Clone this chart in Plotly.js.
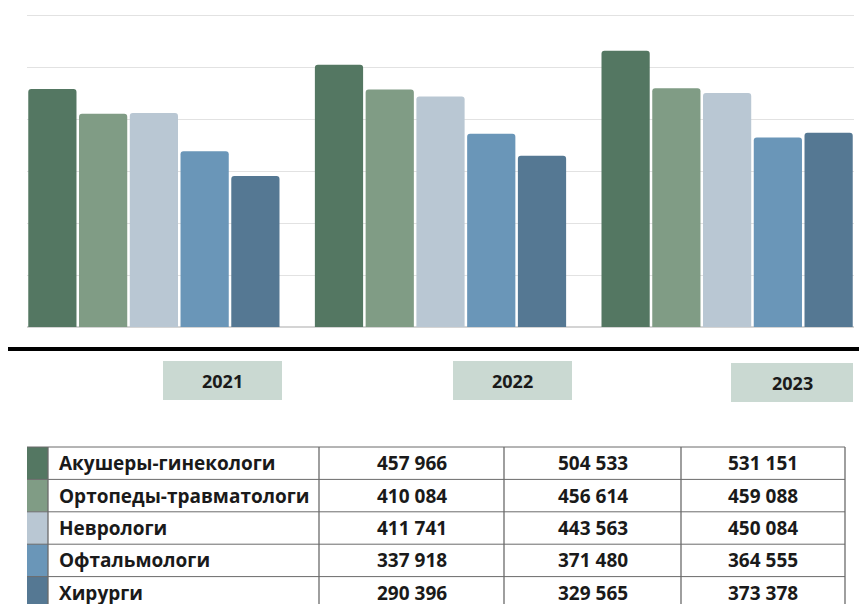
<!DOCTYPE html>
<html>
<head>
<meta charset="utf-8">
<script src="https://cdn.plot.ly/plotly-3.0.1.min.js"></script>
<style>html,body{margin:0;padding:0;background:#fff;}#chart{width:859px;height:604px;}</style>
</head>
<body>
<div id="chart"></div>
<script>
const years = ['2021', '2022', '2023'];
const specialties = ['Акушеры-гинекологи', 'Ортопеды-травматологи', 'Неврологи', 'Офтальмологи', 'Хирурги'];
const values2021 = [457966, 410084, 411741, 337918, 290396];
const values2022 = [504533, 456614, 443563, 371480, 329565];
const values2023 = [531151, 459088, 450084, 364555, 373378];
const colors = ['#547762', '#809c85', '#b9c7d3', '#6a96b8', '#557893'];

// plot area in pixels
const L = 27, R = 854, T = 14, B = 327;
const px = x => (x - L) / (R - L);
const py = y => (B - y) / (B - T);
const fmt = n => String(n).replace(/\B(?=(\d{3})+(?!\d))/g, ' ');

const traces = specialties.map((name, i) => ({
  type: 'bar',
  name: name,
  x: years,
  y: [values2021[i], values2022[i], values2023[i]],
  marker: { color: colors[i], cornerradius: 3, line: { width: 0 } },
  hoverinfo: 'skip'
}));

const shapes = [];
const annotations = [];
const tf = { family: 'Open Sans', size: 19, color: '#1a1a1a' };

// thick black separator
shapes.push({ type: 'line', xref: 'paper', yref: 'paper', x0: px(8), x1: px(859), y0: py(349), y1: py(349), line: { color: '#000', width: 4 } });

// year boxes
const yearBoxes = [[163, 282, 361, 400], [453, 572, 361, 400], [731, 853, 363, 402]];
years.forEach((yr, i) => {
  const b = yearBoxes[i];
  shapes.push({ type: 'rect', xref: 'paper', yref: 'paper', x0: px(b[0]), x1: px(b[1]), y0: py(b[2]), y1: py(b[3]), fillcolor: '#cad9d2', line: { width: 0 } });
  annotations.push({ xref: 'paper', yref: 'paper', x: px((b[0] + b[1]) / 2), y: py((b[2] + b[3]) / 2), text: '<b>' + yr + '</b>', showarrow: false, xanchor: 'center', yanchor: 'middle', font: { family: 'Open Sans', size: 18, color: '#1a1a1a' } });
});

// table
const tTop = 447, rowH = 32.4;
const colX = [27, 48, 319, 504, 681, 845];
const cols = [values2021, values2022, values2023];
specialties.forEach((name, i) => {
  const y0 = tTop + i * rowH, y1 = y0 + rowH, yc = (y0 + y1) / 2;
  shapes.push({ type: 'rect', xref: 'paper', yref: 'paper', x0: px(colX[0]), x1: px(colX[1]), y0: py(y0), y1: py(y1), fillcolor: colors[i], line: { width: 0 } });
  annotations.push({ xref: 'paper', yref: 'paper', x: px(57), y: py(yc), text: '<b>' + name + '</b>', showarrow: false, xanchor: 'left', yanchor: 'middle', font: tf });
  cols.forEach((c, j) => {
    annotations.push({ xref: 'paper', yref: 'paper', x: px((colX[j + 2] + colX[j + 3]) / 2), y: py(yc), text: '<b>' + fmt(c[i]) + '</b>', showarrow: false, xanchor: 'center', yanchor: 'middle', font: tf });
  });
});
for (let i = 0; i <= specialties.length; i++) {
  const y = tTop + i * rowH;
  shapes.push({ type: 'line', xref: 'paper', yref: 'paper', x0: px(colX[0]), x1: px(colX[5]), y0: py(y), y1: py(y), line: { color: '#6b6b6b', width: 1 } });
}
colX.slice(1).forEach(x => {
  shapes.push({ type: 'line', xref: 'paper', yref: 'paper', x0: px(x), x1: px(x), y0: py(tTop), y1: py(tTop + specialties.length * rowH), line: { color: '#6b6b6b', width: 1.3 } });
});

const layout = {
  width: 859, height: 604,
  margin: { l: L, r: 859 - R, t: T, b: 604 - B, pad: 0 },
  paper_bgcolor: '#fff', plot_bgcolor: '#fff',
  showlegend: false,
  barmode: 'group',
  bargap: 0.1146,
  bargroupgap: 0.05,
  xaxis: { type: 'category', range: [-0.4427, 2.4427], showticklabels: false, showgrid: false, zeroline: false, showline: false, ticks: '' },
  yaxis: { range: [0, 602000], dtick: 100000, showticklabels: false, showgrid: true, gridcolor: '#e2e2e2', gridwidth: 1, zeroline: true, zerolinecolor: '#d4d4d4', zerolinewidth: 1.5, showline: false, ticks: '' },
  shapes: shapes,
  annotations: annotations,
  font: { family: 'Open Sans' }
};

Plotly.newPlot('chart', traces, layout, { displayModeBar: false, staticPlot: true });
</script>
</body>
</html>
